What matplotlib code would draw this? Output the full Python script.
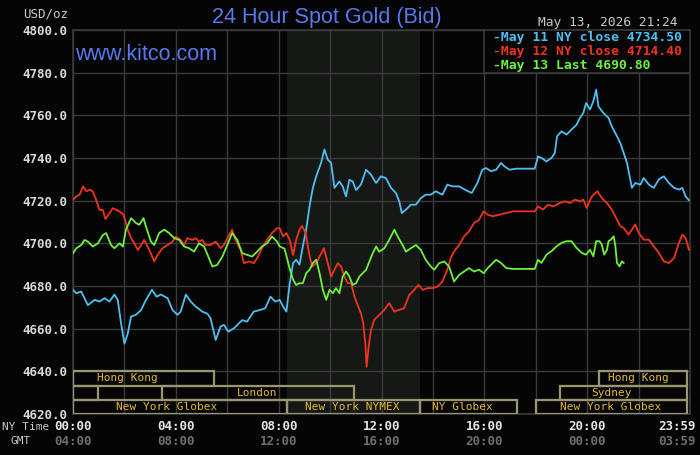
import matplotlib
matplotlib.use('Agg')
import matplotlib.pyplot as plt
import matplotlib.patches as patches
import numpy as np

# ---- data (hours NY time, USD/oz) ----
may11_hours = [0.00, 0.13, 0.32, 0.58, 0.84, 1.03, 1.23, 1.42, 1.61, 1.74, 1.87, 2.00, 2.13, 2.26,
               2.45, 2.65, 2.84, 3.07, 3.25, 3.42, 3.68, 3.87, 4.06, 4.19, 4.39, 4.58, 4.77, 5.03,
               5.23, 5.35, 5.55, 5.74, 5.87, 6.04, 6.26, 6.58, 6.77, 7.03, 7.29, 7.48, 7.68, 7.87,
               8.04, 8.17, 8.30, 8.43, 8.56, 8.68, 8.81, 8.94, 9.07, 9.20, 9.33, 9.46, 9.65, 9.78,
               9.91, 10.04, 10.17, 10.36, 10.49, 10.62, 10.75, 10.88, 11.01, 11.20, 11.40, 11.59,
               11.79, 11.98, 12.17, 12.37, 12.56, 12.69, 12.79, 12.95, 13.14, 13.34, 13.53, 13.72,
               13.92, 14.11, 14.37, 14.56, 14.76, 15.02, 15.27, 15.51, 15.73, 15.92,
               16.07, 16.26, 16.46, 16.65, 16.78, 16.98, 17.24, 17.96, 18.09, 18.22, 18.42, 18.61,
               18.74, 18.83, 19.00, 19.20, 19.39, 19.59, 19.72, 19.85, 19.96, 20.11, 20.24, 20.35,
               20.44, 20.63, 20.83, 20.96, 21.16, 21.29, 21.42, 21.55, 21.68, 21.74, 21.87, 22.07,
               22.20, 22.40, 22.59, 22.79, 22.98, 23.18, 23.38, 23.57, 23.70, 23.83, 23.96]
may11_prices = [4678.2, 4676.6, 4677.4, 4671.0, 4673.5, 4672.7, 4674.3, 4672.7, 4676.0, 4673.5,
                4662.5, 4653.0, 4657.7, 4665.7, 4666.5, 4668.8, 4673.5, 4678.2, 4675.0, 4676.0,
                4674.3, 4668.8, 4666.5, 4668.0, 4676.0, 4672.7, 4670.4, 4668.0, 4667.0, 4664.9,
                4654.7, 4661.0, 4661.8, 4658.6, 4660.2, 4664.0, 4663.3, 4668.0, 4668.8, 4669.6,
                4675.0, 4672.7,
                4673.5, 4670.4, 4668.0, 4681.3, 4690.7, 4692.3, 4690.0, 4698.5, 4706.4, 4717.3,
                4726.0, 4731.4, 4737.7, 4744.0, 4739.2, 4737.7, 4726.0, 4729.0, 4726.7, 4722.0,
                4729.8, 4729.0, 4725.0, 4727.5, 4734.5, 4732.2, 4728.3, 4731.4, 4730.6, 4726.0,
                4723.6, 4719.7, 4714.2, 4715.8, 4718.1, 4718.1, 4721.2, 4722.8, 4722.8, 4724.4,
                4722.8, 4727.5, 4726.7, 4726.7, 4725.0, 4723.6, 4728.3, 4734.5,
                4735.3, 4733.8, 4734.5, 4737.7, 4736.1, 4734.5, 4735.0, 4735.0, 4740.8, 4740.0,
                4738.4, 4740.0, 4742.3, 4750.2, 4752.5, 4751.0, 4753.3, 4755.6, 4758.8, 4761.1,
                4765.8, 4762.7, 4766.6, 4772.0, 4764.2, 4761.1, 4758.8, 4754.8, 4750.2, 4747.0,
                4742.3, 4737.7, 4729.8, 4726.0, 4728.3, 4727.5, 4730.6, 4727.5, 4726.0, 4730.0,
                4731.4, 4728.3, 4726.0, 4725.2, 4726.0, 4722.0, 4720.2]

may12_hours = [0.00, 0.13, 0.26, 0.39, 0.52, 0.65, 0.77, 0.90, 1.03, 1.16, 1.26, 1.42, 1.55, 1.68,
               1.81, 1.97, 2.13, 2.26, 2.39, 2.52, 2.65, 2.77, 2.97, 3.16, 3.29, 3.48, 3.68, 3.87,
               4.00, 4.19, 4.32, 4.45, 4.65, 4.77, 4.90, 5.03, 5.16, 5.35, 5.55, 5.74, 5.87, 6.04,
               6.19, 6.32, 6.52, 6.65, 6.84, 7.03, 7.16, 7.35, 7.55, 7.74, 7.94,
               8.04, 8.17, 8.30, 8.43, 8.56, 8.68, 8.81, 8.91, 9.05, 9.18, 9.30, 9.46, 9.59, 9.76,
               9.91, 10.04, 10.17, 10.30, 10.43, 10.56, 10.69, 10.82, 10.95, 11.07, 11.20, 11.29,
               11.37, 11.42, 11.50, 11.59, 11.72, 11.91, 12.11, 12.30, 12.50, 12.69, 12.88, 13.08,
               13.27, 13.44, 13.60, 13.79, 13.99, 14.18, 14.37, 14.56, 14.69, 14.82, 15.02, 15.21,
               15.40, 15.60, 15.79, 15.98,
               16.13, 16.33, 16.59, 16.85, 17.11, 17.96, 18.09, 18.28, 18.48, 18.68, 18.94, 19.13,
               19.33, 19.52, 19.72, 19.85, 19.98, 20.18, 20.40, 20.57, 20.77, 20.96, 21.16, 21.29,
               21.42, 21.61, 21.74, 21.87, 22.01, 22.20, 22.40, 22.59, 22.79, 22.98, 23.18, 23.38,
               23.57, 23.70, 23.83, 23.96]
may12_prices = [4720.4, 4722.0, 4722.8, 4726.7, 4724.4, 4725.1, 4724.4, 4720.4, 4715.7, 4715.7,
                4711.4, 4714.1, 4716.5, 4715.7, 4715.0, 4713.4, 4706.4, 4702.4, 4700.0, 4696.9,
                4699.2, 4701.6, 4696.9, 4691.5, 4694.6, 4697.7, 4699.2, 4700.8, 4703.2, 4701.6,
                4699.2, 4702.4, 4701.6, 4702.4, 4700.8, 4701.6, 4699.2, 4699.2, 4700.8, 4697.7,
                4699.2, 4703.2, 4706.4, 4701.6, 4696.9, 4690.7, 4691.5, 4690.7, 4693.0, 4697.7,
                4701.6, 4704.8, 4707.1,
                4707.1, 4703.2, 4704.8, 4701.6, 4694.5, 4701.6, 4706.4, 4708.2, 4704.8, 4695.4,
                4689.1, 4690.7, 4693.8, 4697.7, 4690.7, 4684.4, 4687.6, 4690.7, 4689.1, 4684.4,
                4681.3, 4681.3, 4675.0, 4671.1, 4667.2, 4662.5, 4653.1, 4642.1, 4651.5, 4659.4,
                4664.1, 4666.5, 4668.8, 4672.0, 4668.0, 4668.8, 4669.6, 4675.8, 4678.2, 4680.5,
                4678.2, 4679.0, 4679.0, 4679.7, 4682.1, 4687.6, 4693.0, 4696.1, 4699.2, 4703.2,
                4705.6, 4709.5, 4711.0, 4715.0,
                4713.4, 4712.7, 4713.4, 4714.2, 4715.0, 4715.0, 4717.3, 4715.8, 4718.1, 4717.3,
                4718.9, 4719.7, 4718.9, 4720.5, 4719.7, 4720.5, 4716.6, 4722.0, 4724.4, 4721.2,
                4718.9, 4715.8, 4711.1, 4708.0, 4707.2, 4704.1, 4706.4, 4708.8, 4704.8, 4701.7,
                4701.7, 4698.6, 4695.5, 4691.6, 4690.8, 4693.1, 4700.2, 4704.1, 4702.5, 4697.0]

may13_hours = [0.00, 0.13, 0.32, 0.45, 0.58, 0.77, 0.97, 1.16, 1.29, 1.48, 1.61, 1.81, 1.94, 2.06,
               2.26, 2.45, 2.58, 2.74, 2.86, 3.03, 3.16, 3.35, 3.55, 3.74, 3.94, 4.13, 4.32, 4.52,
               4.71, 4.90, 5.10, 5.29, 5.42, 5.61, 5.81, 6.00, 6.19, 6.39, 6.58, 6.77, 6.97, 7.16,
               7.35, 7.55, 7.74, 7.94,
               8.04, 8.23, 8.43, 8.56, 8.68, 8.81, 8.94, 9.07, 9.20, 9.33, 9.46, 9.59, 9.72, 9.85,
               9.98, 10.11, 10.23, 10.36, 10.49, 10.62, 10.75, 10.88, 11.01, 11.14, 11.27, 11.40,
               11.53, 11.66, 11.79, 11.91, 12.11, 12.30, 12.50, 12.63, 12.82, 12.95, 13.14, 13.34,
               13.53, 13.72, 13.92, 14.05, 14.24, 14.44, 14.63, 14.82, 15.02, 15.21, 15.40, 15.60,
               15.79, 15.98,
               16.13, 16.33, 16.46, 16.65, 16.85, 17.11, 17.96, 18.09, 18.22, 18.42, 18.61, 18.81,
               19.00, 19.20, 19.39, 19.59, 19.79, 19.96, 20.11, 20.24, 20.35, 20.48, 20.57, 20.66,
               20.77, 20.83, 20.92, 21.03, 21.09, 21.16, 21.26, 21.35, 21.42]
may13_prices = [4695.4, 4697.7, 4699.2, 4701.6, 4700.8, 4698.5, 4700.0, 4703.9, 4704.8, 4699.2,
                4697.7, 4700.0, 4698.5, 4706.4, 4711.8, 4709.5, 4708.7, 4711.8, 4707.1, 4700.8,
                4699.2, 4704.8, 4706.4, 4704.8, 4702.4, 4701.6, 4698.5, 4697.7, 4696.1, 4700.0,
                4698.5, 4693.0, 4689.1, 4689.9, 4693.8, 4699.2, 4704.8, 4701.6, 4695.4, 4694.6,
                4693.8, 4696.1, 4698.5, 4700.0, 4703.2, 4700.8,
                4698.5, 4697.5, 4688.0, 4683.0, 4680.5, 4681.3, 4681.3, 4686.0, 4687.6, 4690.7,
                4692.3, 4686.0, 4678.2, 4673.5, 4678.2, 4676.6, 4679.0, 4676.6, 4684.4, 4686.8,
                4684.4, 4680.5, 4681.3, 4684.4, 4686.0, 4687.6, 4691.5, 4695.4, 4698.5, 4696.1,
                4697.7, 4701.6, 4706.4, 4703.2, 4699.2, 4696.1, 4697.7, 4699.2, 4696.9, 4692.3,
                4689.1, 4687.6, 4690.7, 4691.5, 4689.1, 4682.1, 4685.2, 4686.8, 4688.4, 4686.8,
                4687.6, 4686.0,
                4688.4, 4690.8, 4692.3, 4690.8, 4688.4, 4688.0, 4688.0, 4692.3, 4690.8, 4694.7,
                4696.3, 4698.6, 4700.2, 4701.0, 4701.0, 4697.8, 4695.5, 4694.7, 4697.0, 4693.9,
                4701.0, 4701.0, 4699.4, 4694.7, 4697.0, 4701.0, 4701.7, 4703.3, 4699.4, 4690.8,
                4689.2, 4691.6, 4690.8]

legend_labels = ['May 11 NY close 4734.50', 'May 12 NY close 4714.40', 'May 13 Last 4690.80']
series_colors = ['#4fbef0', '#f0321e', '#6ef03c']

y_ticks = list(range(4620, 4801, 20))
ny_labels = ['00:00', '04:00', '08:00', '12:00', '16:00', '20:00', '23:59']
gmt_labels = ['04:00', '08:00', '12:00', '16:00', '20:00', '00:00', '03:59']
label_hours = [0, 4, 8, 12, 16, 20, 24]

# trading sessions (start/end hour, row from top, where the name sits)
session_names = ['Hong Kong', 'Hong Kong', '', 'London', 'Sydney',
                 'New York Globex', 'New York NYMEX', 'NY Globex', 'New York Globex']
session_start = [0, 20.45, 0, 3.48, 18.95, 0, 8.33, 13.5, 18.0]
session_end = [5.47, 23.9, 0.96, 10.92, 23.9, 8.33, 13.5, 17.28, 23.9]
session_row = [0, 0, 1, 1, 1, 2, 2, 2, 2]
session_text_at = [2.12, 21.99, 0.5, 7.15, 20.93, 3.64, 10.87, 15.15, 20.92]
nymex_span = (8.33, 13.5)

BG = '#050505'
GRID = '#3a3a3a'
MONO = 'DejaVu Sans Mono'
SANS = 'Liberation Sans'
BLUE_TXT = '#5a78ee'


def plot_gold():
    fig = plt.figure(figsize=(7, 4.55), dpi=100, facecolor=BG)
    W, H = 700.0, 455.0
    ax = fig.add_axes([73 / W, 1 - 414 / H, 617 / W, 384 / H], facecolor=BG)
    ax.set_xlim(0, 24)
    ax.set_ylim(4620, 4800)

    # NYMEX pit hours shading
    ax.axvspan(nymex_span[0], nymex_span[1], color='#161816', zorder=0, lw=0)

    # grid
    ax.set_xticks(np.arange(0, 25, 2))
    ax.set_yticks(y_ticks)
    ax.set_xticklabels([])
    ax.set_yticklabels(['%.1f' % v for v in y_ticks])
    ax.grid(True, color=GRID, linewidth=1.0, zorder=1)
    ax.set_axisbelow(False)
    ax.tick_params(length=0, pad=4)
    for lab in ax.get_yticklabels():
        lab.set_family(MONO)
        lab.set_fontsize(9)
        lab.set_fontweight('bold')
        lab.set_color('#d8d8d8')
    for sp in ax.spines.values():
        sp.set_color(GRID)
        sp.set_linewidth(1.2)

    # price lines
    for hrs, prc, c in [(may11_hours, may11_prices, series_colors[0]),
                        (may12_hours, may12_prices, series_colors[1]),
                        (may13_hours, may13_prices, series_colors[2])]:
        ax.plot(hrs, prc, color=c, linewidth=1.3, zorder=3)

    # session boxes
    row_h = 20.0 / 3
    for name, s, e, r, tx in zip(session_names, session_start, session_end,
                                 session_row, session_text_at):
        y0 = 4620 + (2 - r) * row_h
        ax.add_patch(patches.Rectangle((s, y0), e - s, row_h, fill=False,
                                       edgecolor='#9a9670', linewidth=1.6, zorder=4))
        if name:
            ax.text(tx, y0 + row_h / 2, name, ha='center', va='center', color='#e3b935',
                    family=MONO, fontsize=8, zorder=5)

    # legend box at top right
    ax.add_patch(patches.Rectangle((16, 4780), 8, 20, facecolor=BG, edgecolor=GRID,
                                   linewidth=1.2, zorder=6))
    for i, (lab, c) in enumerate(zip(legend_labels, series_colors)):
        fig.text(493 / W, 1 - (37.5 + 13.8 * i) / H, '-' + lab, color=c, family=MONO,
                 fontsize=9.4, fontweight='bold', ha='left', va='center')

    # time axis labels
    trans = ax.get_xaxis_transform()
    for h, ny, gmt in zip(label_hours, ny_labels, gmt_labels):
        if h == 24:
            for lab, yy, col in [(ny, -0.033, '#e6e6e6'), (gmt, -0.072, '#6e6e6e')]:
                ax.annotate(lab, (h, yy), xycoords=trans, xytext=(4, 0),
                            textcoords='offset points', ha='right', va='center', color=col,
                            family=MONO, fontsize=9, fontweight='bold', annotation_clip=False)
        else:
            ax.text(h, -0.033, ny, transform=trans, ha='center', va='center', color='#e6e6e6',
                    family=MONO, fontsize=9, fontweight='bold')
            ax.text(h, -0.072, gmt, transform=trans, ha='center', va='center', color='#6e6e6e',
                    family=MONO, fontsize=9, fontweight='bold')
    fig.text(2 / W, 1 - 427 / H, 'NY Time', color='#c8c8c8', family=MONO, fontsize=8,
             ha='left', va='center')
    fig.text(21 / W, 1 - 441.5 / H, 'GMT', color='#c8c8c8', family=MONO, fontsize=8,
             ha='center', va='center')

    # titles and header texts
    fig.text(326.5 / W, 1 - 17 / H, '24 Hour Spot Gold (Bid)', color=BLUE_TXT, family=SANS,
             fontsize=15.5, ha='center', va='center')
    fig.text(75 / W, 1 - 54 / H, 'www.kitco.com', color=BLUE_TXT, family=SANS, fontsize=15.5,
             ha='left', va='center')
    fig.text(678 / W, 1 - 22.5 / H, 'May 13, 2026 21:24', color='#c8c8c8', family=MONO,
             fontsize=9.3, ha='right', va='center')
    fig.text(68 / W, 1 - 14 / H, 'USD/oz', color='#c8c8c8', family=MONO, fontsize=9,
             ha='right', va='center')

    fig.savefig('out.png', dpi=100, facecolor=BG)


if __name__ == '__main__':
    plot_gold()
